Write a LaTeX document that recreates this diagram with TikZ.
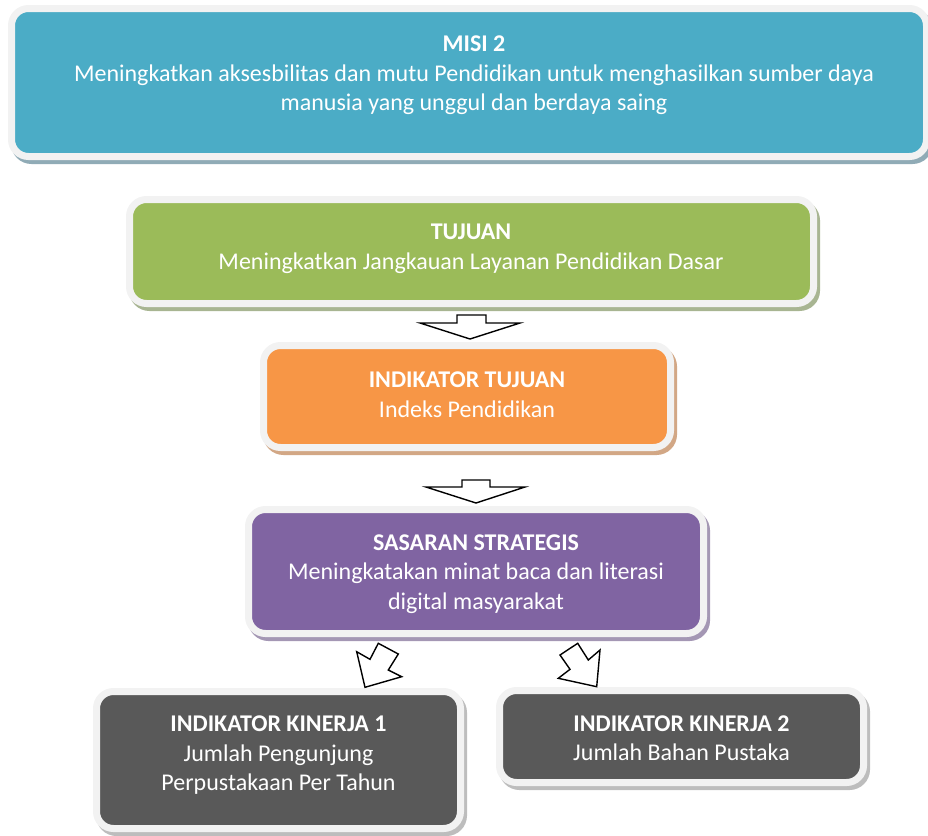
\documentclass[tikz,border=0pt]{standalone}
\usepackage{fontspec}
\setmainfont{Carlito}
\definecolor{cteal}{HTML}{4BACC6}
\definecolor{steal}{HTML}{90ABB6}
\definecolor{cgreen}{HTML}{9BBB59}
\definecolor{sgreen}{HTML}{A8B592}
\definecolor{corange}{HTML}{F79646}
\definecolor{sorange}{HTML}{D2A785}
\definecolor{cpurple}{HTML}{8064A2}
\definecolor{spurple}{HTML}{A497B4}
\definecolor{cdark}{HTML}{595959}
\definecolor{sdark}{HTML}{BDBDBD}
\definecolor{cardedge}{HTML}{F2F2F2}
\tikzset{
  card/.style 2 args={rounded corners=17pt, draw=cardedge, line width=7pt, fill=#1,
    inner sep=0pt,
    preaction={draw=#2, fill=#2, line width=7pt, transform canvas={shift={(3pt,-4pt)}}}},
  cardtext/.style={text=white, align=center, font=\fontsize{24}{29.5}\selectfont, inner sep=0pt},
  blockarrow/.style={draw=black, line width=1.4pt, fill=white, line join=miter},
}
\begin{document}
\begin{tikzpicture}[x=1pt,y=-1pt]
\useasboundingbox (0,0) rectangle (928,835);
% cards
\node[card={cteal}{steal}, minimum width=915, minimum height=148] (misi) at (469,82.5) {};
\node[cardtext] (misiT) at (474,75.5) {\textbf{MISI 2}\\Meningkatkan aksesbilitas dan mutu Pendidikan untuk menghasilkan sumber daya\\manusia yang unggul dan berdaya saing};
\node[card={cgreen}{sgreen}, minimum width=684, minimum height=104] (tuj) at (471.5,251.5) {};
\node[cardtext] (tujT) at (471,249) {\textbf{TUJUAN}\\Meningkatkan Jangkauan Layanan Pendidikan Dasar};
\node[card={corange}{sorange}, minimum width=407, minimum height=102] (ind) at (467,396.5) {};
\node[cardtext] (indT) at (467,394.5) {\textbf{INDIKATOR TUJUAN}\\Indeks Pendidikan};
\node[card={cpurple}{spurple}, minimum width=455, minimum height=124] (sas) at (476,571.5) {};
\node[cardtext] (sasT) at (476,574) {\textbf{SASARAN STRATEGIS}\\Meningkatakan minat baca dan literasi\\digital masyarakat};
\node[card={cdark}{sdark}, minimum width=364, minimum height=137] (ik1) at (278.5,760) {};
\node[cardtext] (ik1T) at (278.5,755.5) {\textbf{INDIKATOR KINERJA 1}\\Jumlah Pengunjung\\Perpustakaan Per Tahun};
\node[card={cdark}{sdark}, minimum width=364, minimum height=92] (ik2) at (681.5,736.5) {};
\node[cardtext] (ik2T) at (681.5,738) {\textbf{INDIKATOR KINERJA 2}\\Jumlah Bahan Pustaka};
% block arrows
\draw[blockarrow] (457,315) -- (486,315) -- (486,323) -- (520,323) -- (470,339) -- (420,323) -- (457,323) -- cycle;
\draw[blockarrow] (462,480) -- (490,480) -- (490,487) -- (525,487) -- (476,503) -- (426,487) -- (462,487) -- cycle;
\draw[blockarrow] (356.7,651.7) -- (370,659.3) -- (378.3,643.3) -- (398.3,654) -- (388.3,670) -- (401.7,676.7) -- (365,687.3) -- cycle;
\draw[blockarrow] (577.7,643.3) -- (588.3,660) -- (600,650) -- (596.7,686.7) -- (558.3,678.3) -- (570,669.3) -- (560,655) -- cycle;
\end{tikzpicture}
\end{document}
